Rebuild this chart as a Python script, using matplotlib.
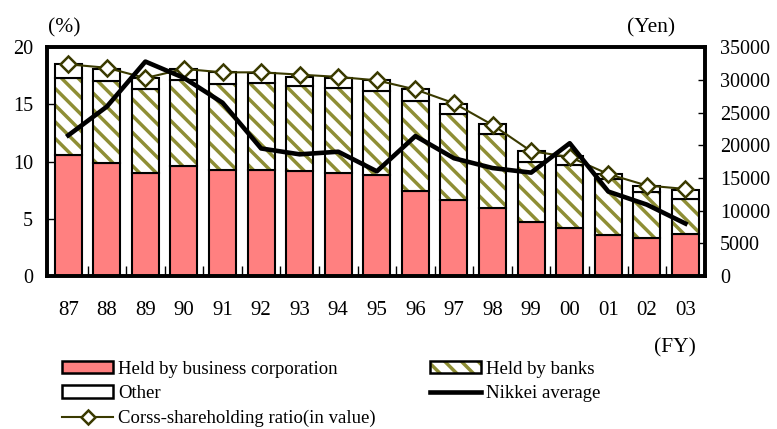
import matplotlib
matplotlib.use("Agg")
import matplotlib.pyplot as plt
from matplotlib.patches import Patch
from matplotlib.lines import Line2D
from matplotlib.legend_handler import HandlerTuple
import numpy as np

plt.rcParams["font.family"] = ["Liberation Serif", "DejaVu Serif"]
plt.rcParams["hatch.linewidth"] = 2.5

YEARS = ["87", "88", "89", "90", "91", "92", "93", "94", "95",
         "96", "97", "98", "99", "00", "01", "02", "03"]
# shares (%) by holder
CORP = [10.6, 9.9, 9.0, 9.6, 9.3, 9.3, 9.2, 9.0, 8.8,
        7.4, 6.6, 5.9, 4.7, 4.2, 3.6, 3.3, 3.7]
BANKS = [6.7, 7.1, 7.3, 7.5, 7.5, 7.6, 7.4, 7.4, 7.4,
         7.9, 7.6, 6.5, 5.3, 5.5, 4.9, 4.0, 3.0]
OTHER = [1.2, 1.1, 1.0, 1.0, 1.0, 0.8, 0.8, 0.9, 0.9,
         1.0, 0.8, 0.9, 0.9, 0.8, 0.4, 0.6, 0.8]
RATIO = [18.5, 18.2, 17.3, 18.1, 17.8, 17.8, 17.6, 17.4, 17.1,
         16.3, 15.1, 13.2, 10.9, 10.4, 8.9, 7.9, 7.6]
# Nikkei average (yen)
NIKKEI = [21500, 25900, 32800, 30300, 26500, 19500, 18600, 19000, 16000,
          21400, 18000, 16500, 15800, 20300, 12900, 10900, 8000]

RED = "#ff8080"
OLIVE = "#8e8e35"
DARK_OLIVE = "#3a3a00"


def main():
    x = np.arange(len(YEARS))
    corp = np.array(CORP)
    banks = np.array(BANKS)
    other = np.array(OTHER)
    w = 0.7

    fig = plt.figure(figsize=(7.77, 4.29), dpi=100)
    ax = fig.add_axes([0.0605, 0.357, 0.8465, 0.533])

    ax.bar(x, corp, w, color=RED, edgecolor="black", linewidth=1.5, zorder=2)
    ax.bar(x, banks, w, bottom=corp, color="white", edgecolor=OLIVE,
           hatch="\\\\", linewidth=0, zorder=2)
    ax.bar(x, banks, w, bottom=corp, color="none", edgecolor="black",
           linewidth=1.5, zorder=2)
    ax.bar(x, other, w, bottom=corp + banks, color="white", edgecolor="black",
           linewidth=1.5, zorder=2)
    ax.plot(x, RATIO, color=DARK_OLIVE, linewidth=1.5, marker="D",
            markersize=8, markerfacecolor="white", markeredgecolor=DARK_OLIVE,
            markeredgewidth=1.8, zorder=3)

    ax.set_xlim(-0.55, len(YEARS) - 0.5)
    ax.set_ylim(0, 20)
    ax.set_yticks([0, 5, 10, 15, 20])
    ax.set_xticks(x)
    ax.set_xticklabels(YEARS)
    ax.set_xticks(x[:-1] + 0.5, minor=True)
    ax.tick_params(axis="x", which="major", length=0, pad=18, labelsize=15)
    ax.tick_params(axis="x", which="minor", direction="in", length=7, width=1)
    ax.tick_params(axis="y", direction="in", length=5, width=1, pad=10, labelsize=14.5)
    for s in ax.spines.values():
        s.set_linewidth(2.6)

    ax2 = ax.twinx()
    ax2.plot(x, NIKKEI, color="black", linewidth=3.3, zorder=4)
    ax2.set_ylim(0, 35000)
    ax2.set_yticks(np.arange(0, 35001, 5000))
    ax2.tick_params(axis="y", direction="in", length=5, width=1, pad=11, labelsize=14.5)
    for s in ax2.spines.values():
        s.set_linewidth(2.6)

    fig.text(0.0824, 0.936, "(%)", ha="center", va="center", fontsize=15.5)
    fig.text(0.838, 0.936, "(Yen)", ha="center", va="center", fontsize=15.5)
    fig.text(0.869, 0.19, "(FY)", ha="center", va="center", fontsize=15.5)

    h_corp = Patch(facecolor=RED, edgecolor="black", linewidth=1.8)
    h_banks = (Patch(facecolor="white", edgecolor=OLIVE, hatch="\\\\", linewidth=0),
               Patch(facecolor="none", edgecolor="black", linewidth=1.8))
    h_other = Patch(facecolor="white", edgecolor="black", linewidth=1.8)
    h_nikkei = Line2D([], [], color="black", linewidth=3.3)
    h_ratio = Line2D([], [], color=DARK_OLIVE, linewidth=1.5, marker="D",
                     markersize=7, markerfacecolor="white",
                     markeredgecolor=DARK_OLIVE, markeredgewidth=1.8)

    common = dict(loc="upper left", frameon=False, fontsize=13.5, borderpad=0,
                  borderaxespad=0, handlelength=2.75, handleheight=0.65,
                  handletextpad=0.25, labelspacing=0.40,
                  handler_map={tuple: HandlerTuple(ndivide=1, pad=0)})
    fig.legend([h_corp, h_other, h_ratio],
               ["Held by business corporation", "Other",
                "Corss-shareholding ratio(in value)"],
               bbox_to_anchor=(0.0795, 0.159), **common)
    fig.legend([h_banks, h_nikkei], ["Held by banks", "Nikkei average"],
               bbox_to_anchor=(0.553, 0.159), **common)

    fig.savefig("out.png", dpi=100)
    plt.close(fig)


if __name__ == "__main__":
    main()
